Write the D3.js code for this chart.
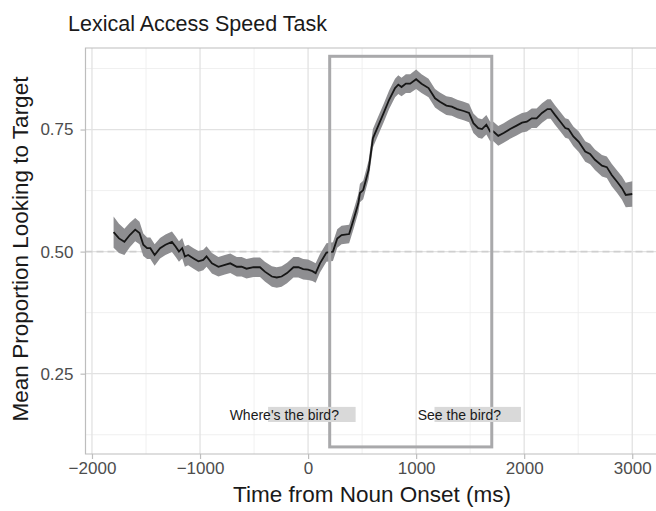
<!DOCTYPE html>
<html>
<head>
<meta charset="utf-8">
<script src="https://cdn.jsdelivr.net/npm/d3@7"></script>
<style>
  body { margin: 0; background: #fff; }
  text { font-family: "Liberation Sans", Arial, Helvetica, sans-serif; }
</style>
</head>
<body>
<div id="chart"></div>
<script>
// time from noun onset (ms)
const time = [-1800,-1750,-1700,-1650,-1600,-1560,-1525,-1490,-1460,-1420,
  -1370,-1320,-1260,-1225,-1195,-1165,-1140,-1110,-1060,-1015,
  -970,-940,-890,-830,-770,-720,-660,-615,-570,-505,
  -445,-400,-335,-290,-245,-195,-135,-90,-45,0,
  40,70,110,170,230,270,310,380,420,465,
  480,510,560,600,640,700,750,805,835,865,
  905,945,1000,1050,1115,1175,1220,1280,1330,1380,
  1440,1490,1530,1575,1610,1650,1685,1715,1760,1810,
  1870,1930,1980,2025,2070,2115,2165,2215,2245,2285,
  2335,2380,2410,2455,2505,2565,2610,2655,2720,2765,
  2810,2860,2905,2940,3000];

// mean proportion looking to target
const meanProp = [0.540,0.527,0.520,0.534,0.545,0.538,0.514,0.507,0.507,0.493,
  0.507,0.514,0.520,0.510,0.500,0.507,0.490,0.493,0.486,0.480,
  0.483,0.490,0.476,0.469,0.473,0.476,0.469,0.469,0.465,0.468,
  0.468,0.459,0.449,0.447,0.449,0.456,0.468,0.468,0.464,0.463,
  0.460,0.456,0.476,0.498,0.500,0.527,0.534,0.536,0.565,0.599,
  0.620,0.626,0.667,0.732,0.753,0.784,0.811,0.835,0.842,0.837,
  0.844,0.844,0.853,0.844,0.835,0.814,0.807,0.799,0.797,0.792,
  0.788,0.784,0.763,0.753,0.751,0.760,0.746,0.746,0.737,0.743,
  0.751,0.758,0.764,0.766,0.773,0.773,0.784,0.792,0.792,0.780,
  0.766,0.753,0.751,0.736,0.725,0.705,0.700,0.688,0.676,0.673,
  0.657,0.643,0.630,0.616,0.618];

// half width of the ribbon
const seProp = [0.032,0.030,0.027,0.025,0.024,0.023,0.023,0.022,0.022,0.022,
  0.021,0.021,0.021,0.021,0.021,0.021,0.021,0.021,0.021,0.021,
  0.021,0.021,0.021,0.020,0.020,0.020,0.020,0.020,0.020,0.020,
  0.020,0.020,0.021,0.021,0.021,0.021,0.021,0.021,0.021,0.021,
  0.020,0.020,0.019,0.019,0.019,0.019,0.019,0.019,0.019,0.019,
  0.019,0.019,0.019,0.019,0.019,0.019,0.019,0.019,0.019,0.019,
  0.019,0.019,0.020,0.019,0.019,0.019,0.019,0.019,0.019,0.019,
  0.019,0.019,0.020,0.020,0.020,0.020,0.020,0.020,0.020,0.020,
  0.020,0.020,0.020,0.020,0.020,0.020,0.020,0.020,0.020,0.020,
  0.020,0.020,0.020,0.020,0.021,0.021,0.021,0.021,0.022,0.022,
  0.023,0.023,0.024,0.025,0.026];

const xMajor = [-2000, -1000, 0, 1000, 2000, 3000];
const xMinor = [-1500, -500, 500, 1500, 2500];
const yMajor = [0.25, 0.50, 0.75];
const yMinor = [0.125, 0.375, 0.625, 0.875];

// analysis window and the two sentence labels
const windowBox = {x0: 200, x1: 1700, y0: 0.1, y1: 0.9};
const labels = [
  {text: "Where's the bird?", tx: -220, x0: -370, x1: 440},
  {text: "See the bird?", tx: 1400, x0: 1170, x1: 1970}
];
const labelY = {y: 0.166, y0: 0.151, y1: 0.182};

const
  width = 656,
  height = 511,
  panel = {left: 85.5, top: 48, right: 656, bottom: 454};

const data = time.map((t, i) => ({t: t, m: meanProp[i], se: seProp[i]}));

const xScale = d3.scaleLinear()
  .domain([-2060, 3220])
  .range([panel.left, panel.right]);

const yScale = d3.scaleLinear()
  .domain([0.0855, 0.917])
  .range([panel.bottom, panel.top]);

const svg = d3.select("#chart").append("svg")
  .attr("width", width)
  .attr("height", height);

// grid
svg.append("g").selectAll("line")
  .data(xMinor)
  .join("line")
  .attr("x1", d => xScale(d)).attr("x2", d => xScale(d))
  .attr("y1", panel.top).attr("y2", panel.bottom)
  .attr("stroke", "#ececec").attr("stroke-width", 0.8);

svg.append("g").selectAll("line")
  .data(yMinor)
  .join("line")
  .attr("x1", panel.left).attr("x2", panel.right)
  .attr("y1", d => yScale(d)).attr("y2", d => yScale(d))
  .attr("stroke", "#ececec").attr("stroke-width", 0.8);

svg.append("g").selectAll("line")
  .data(xMajor)
  .join("line")
  .attr("x1", d => xScale(d)).attr("x2", d => xScale(d))
  .attr("y1", panel.top).attr("y2", panel.bottom)
  .attr("stroke", "#e2e2e2").attr("stroke-width", 1.3);

svg.append("g").selectAll("line")
  .data(yMajor)
  .join("line")
  .attr("x1", panel.left).attr("x2", panel.right)
  .attr("y1", d => yScale(d)).attr("y2", d => yScale(d))
  .attr("stroke", "#e2e2e2").attr("stroke-width", 1.3);

// chance line
svg.append("line")
  .attr("x1", panel.left).attr("x2", panel.right)
  .attr("y1", yScale(0.5)).attr("y2", yScale(0.5))
  .attr("stroke", "#cfcfcf")
  .attr("stroke-width", 1.6)
  .attr("stroke-dasharray", "7,4");

// ribbon + mean line
const area = d3.area()
  .x(d => xScale(d.t))
  .y0(d => yScale(d.m - d.se))
  .y1(d => yScale(d.m + d.se));

const line = d3.line()
  .x(d => xScale(d.t))
  .y(d => yScale(d.m));

svg.append("path")
  .datum(data)
  .attr("d", area)
  .attr("fill", "#8e8e91");

svg.append("path")
  .datum(data)
  .attr("d", line)
  .attr("fill", "none")
  .attr("stroke", "#161616")
  .attr("stroke-width", 1.8);

// window box
svg.append("rect")
  .attr("x", xScale(windowBox.x0))
  .attr("y", yScale(windowBox.y1))
  .attr("width", xScale(windowBox.x1) - xScale(windowBox.x0))
  .attr("height", yScale(windowBox.y0) - yScale(windowBox.y1))
  .attr("fill", "none")
  .attr("stroke", "#a9a9ab")
  .attr("stroke-width", 3);

// sentence labels
svg.append("g").selectAll("rect")
  .data(labels)
  .join("rect")
  .attr("x", d => xScale(d.x0))
  .attr("y", yScale(labelY.y1))
  .attr("width", d => xScale(d.x1) - xScale(d.x0))
  .attr("height", yScale(labelY.y0) - yScale(labelY.y1))
  .attr("fill", "#d9d9d9");

svg.append("g").selectAll("text")
  .data(labels)
  .join("text")
  .attr("x", d => xScale(d.tx))
  .attr("y", yScale(labelY.y))
  .attr("dy", "0.35em")
  .attr("text-anchor", "middle")
  .attr("font-size", 14)
  .attr("fill", "#1a1a1a")
  .text(d => d.text);

// panel border (right edge runs off the page)
svg.append("path")
  .attr("d", `M${panel.right + 5},${panel.top}H${panel.left}V${panel.bottom}H${panel.right + 5}`)
  .attr("fill", "none")
  .attr("stroke", "#bdbdbd")
  .attr("stroke-width", 1.2);

// axes
const xAxis = d3.axisBottom(xScale)
  .tickValues(xMajor)
  .tickSize(5)
  .tickPadding(3)
  .tickFormat(d => d3.format("d")(d).replace("-", "\u2212"));

const yAxis = d3.axisLeft(yScale)
  .tickValues(yMajor)
  .tickSize(5)
  .tickPadding(7)
  .tickFormat(d3.format(".2f"));

svg.append("g")
  .attr("transform", `translate(0,${panel.bottom})`)
  .call(xAxis)
  .call(g => g.select(".domain").remove())
  .call(g => g.selectAll(".tick line").attr("stroke", "#bdbdbd").attr("stroke-width", 1.2))
  .call(g => g.selectAll(".tick text")
    .attr("font-size", 17)
    .attr("font-family", "Liberation Sans, Arial, sans-serif")
    .attr("fill", "#4d4d4d"));

svg.append("g")
  .attr("transform", `translate(${panel.left},0)`)
  .call(yAxis)
  .call(g => g.select(".domain").remove())
  .call(g => g.selectAll(".tick line").attr("stroke", "#bdbdbd").attr("stroke-width", 1.2))
  .call(g => g.selectAll(".tick text")
    .attr("font-size", 17)
    .attr("font-family", "Liberation Sans, Arial, sans-serif")
    .attr("fill", "#4d4d4d"));

// titles
svg.append("text")
  .attr("x", 68)
  .attr("y", 31)
  .attr("font-size", 21.5)
  .attr("fill", "#1a1a1a")
  .text("Lexical Access Speed Task");

svg.append("text")
  .attr("x", 372)
  .attr("y", 502)
  .attr("text-anchor", "middle")
  .attr("font-size", 22.5)
  .attr("fill", "#1a1a1a")
  .text("Time from Noun Onset (ms)");

svg.append("text")
  .attr("transform", "translate(28,249) rotate(-90)")
  .attr("text-anchor", "middle")
  .attr("font-size", 22.5)
  .attr("fill", "#1a1a1a")
  .text("Mean Proportion Looking to Target");
</script>
</body>
</html>
